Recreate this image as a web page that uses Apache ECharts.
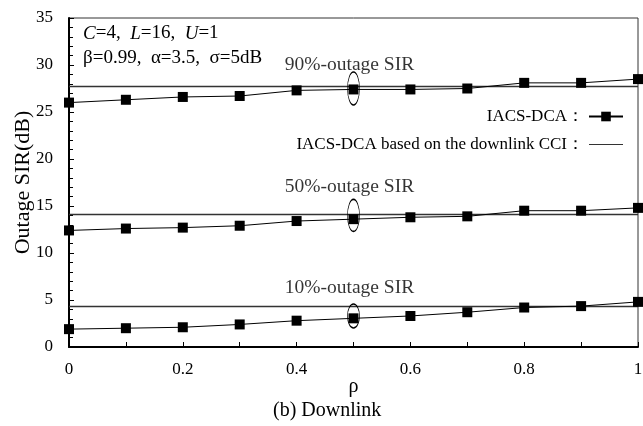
<!DOCTYPE html>
<html>
<head>
<meta charset="utf-8">
<script src="https://cdn.jsdelivr.net/npm/echarts@6/dist/echarts.min.js"></script>
<style>
  html, body { margin: 0; padding: 0; background: #fff; }
  #chart { width: 643px; height: 426px; }
</style>
</head>
<body>
<div id="chart"></div>
<script>
var rho = [0, 0.1, 0.2, 0.3, 0.4, 0.5, 0.6, 0.7, 0.8, 0.9, 1];
var sir90 = [26.0, 26.3, 26.6, 26.7, 27.3, 27.4, 27.4, 27.5, 28.1, 28.1, 28.5];
var sir50 = [12.4, 12.6, 12.7, 12.9, 13.4, 13.6, 13.8, 13.9, 14.5, 14.5, 14.8];
var sir10 = [1.9, 2.0, 2.1, 2.4, 2.8, 3.05, 3.3, 3.7, 4.2, 4.35, 4.8];
var cci = [27.7, 14.1, 4.3];          // downlink CCI based levels (90%, 50%, 10%)
var ringY = [27.5, 14.0, 3.3];        // ellipse centres at rho = 0.5
var ringH = [33, 32, 24];
var labels = ['90%-outage SIR', '50%-outage SIR', '10%-outage SIR'];
var labelY = [30.0, 17.0, 6.3];

var serif = '"Liberation Serif", "Times New Roman", serif';
var nameA = 'IACS-DCA';
var nameB = 'IACS-DCA based on the downlink CCI';

function pairs(ys) {
    return rho.map(function (x, i) { return [x, ys[i]]; });
}

var series = [];
[sir90, sir50, sir10].forEach(function (ys) {
    series.push({
        name: nameA,
        type: 'line',
        data: pairs(ys),
        symbol: 'rect',
        symbolSize: 10,
        lineStyle: { color: '#000', width: 1 },
        itemStyle: { color: '#000' },
        z: 3
    });
});
cci.forEach(function (v, k) {
    series.push({
        name: nameB,
        type: 'line',
        data: [[0, v], [1, v]],
        symbol: 'none',
        lineStyle: { color: '#333', width: 1.5 },
        itemStyle: { color: '#333' },
        z: 2,
        markPoint: {
            symbol: 'circle',
            symbolSize: [12, ringH[k]],
            silent: true,
            label: { show: false },
            itemStyle: { color: 'rgba(0,0,0,0)', borderColor: '#000', borderWidth: 1 },
            data: [{ coord: [0.5, ringY[k]] }]
        }
    });
});
// text labels for each group, placed with data coords
series.push({
    type: 'scatter',
    data: labels.map(function (t, k) { return [0.5, labelY[k]]; }),
    symbolSize: 0,
    silent: true,
    label: {
        show: true,
        position: 'inside',
        offset: [-4, 0],
        formatter: function (p) { return labels[p.dataIndex]; },
        fontFamily: serif,
        fontSize: 19.5,
        color: '#000'
    }
});

// plain line icon for the CCI legend entry (thin guards keep the 34x12 box)
var lineIcon = 'path://M0,0L34,0L34,0.01L0,0.01Z M0,5.4L34,5.4L34,6.6L0,6.6Z M0,11.99L34,11.99L34,12L0,12Z';

var myChart = echarts.init(document.getElementById('chart'));
var option = {
    animation: false,
    textStyle: { fontFamily: serif },
    grid: {
        left: 69, right: 5, top: 18, bottom: 79,
        outerBoundsMode: 'none',
        show: true, borderColor: '#333', borderWidth: 1
    },
    legend: {
        data: [{ name: nameA }, { name: nameB, icon: lineIcon }],
        orient: 'vertical',
        align: 'right',
        right: 14,
        top: 103,
        itemWidth: 34,
        itemHeight: 12,
        itemGap: 11,
        formatter: function (n) { return n + '：'; },
        textStyle: { fontFamily: serif, fontSize: 17, color: '#000' }
    },
    xAxis: {
        type: 'value',
        min: 0, max: 1, interval: 0.2,
        name: 'ρ',
        nameLocation: 'middle',
        nameGap: 30,
        nameMoveOverlap: false,
        nameTextStyle: { fontFamily: serif, fontSize: 20, color: '#000' },
        axisLine: { lineStyle: { color: '#000', width: 2 } },
        axisTick: { inside: true, length: 5, lineStyle: { color: '#000' } },
        minorTick: { show: true, splitNumber: 2, length: 5, lineStyle: { color: '#000' } },
        axisLabel: { fontFamily: serif, fontSize: 17, color: '#000', margin: 14 },
        splitLine: { show: false }
    },
    yAxis: {
        type: 'value',
        min: 0, max: 35, interval: 5,
        name: 'Outage SIR(dB)',
        nameLocation: 'middle',
        nameGap: 35,
        nameMoveOverlap: false,
        nameTextStyle: { fontFamily: serif, fontSize: 22, color: '#000' },
        axisLine: { show: true, lineStyle: { color: '#000', width: 2 } },
        axisTick: { show: true, inside: true, length: 5, lineStyle: { color: '#000' } },
        minorTick: { show: true, splitNumber: 5, length: 4, lineStyle: { color: '#000' } },
        axisLabel: { fontFamily: serif, fontSize: 17, color: '#000', margin: 16 },
        splitLine: { show: false }
    },
    graphic: [
        {
            type: 'text', left: 83, top: 24,
            style: {
                text: '{i|C}=4,\u2002{i|L}=16,\u2002{i|U}=1',
                font: '19px ' + serif,
                fill: '#000',
                rich: { i: { fontStyle: 'italic', fontFamily: serif, fontSize: 19 } }
            }
        },
        {
            type: 'text', left: 83, top: 49,
            style: { text: 'β=0.99,\u2002α=3.5,\u2002σ=5dB', font: '19px ' + serif, fill: '#000' }
        },
        {
            type: 'text', left: 273, top: 401,
            style: { text: '(b) Downlink', font: '20px ' + serif, fill: '#000' }
        }
    ],
    series: series
};
myChart.setOption(option);
</script>
</body>
</html>
